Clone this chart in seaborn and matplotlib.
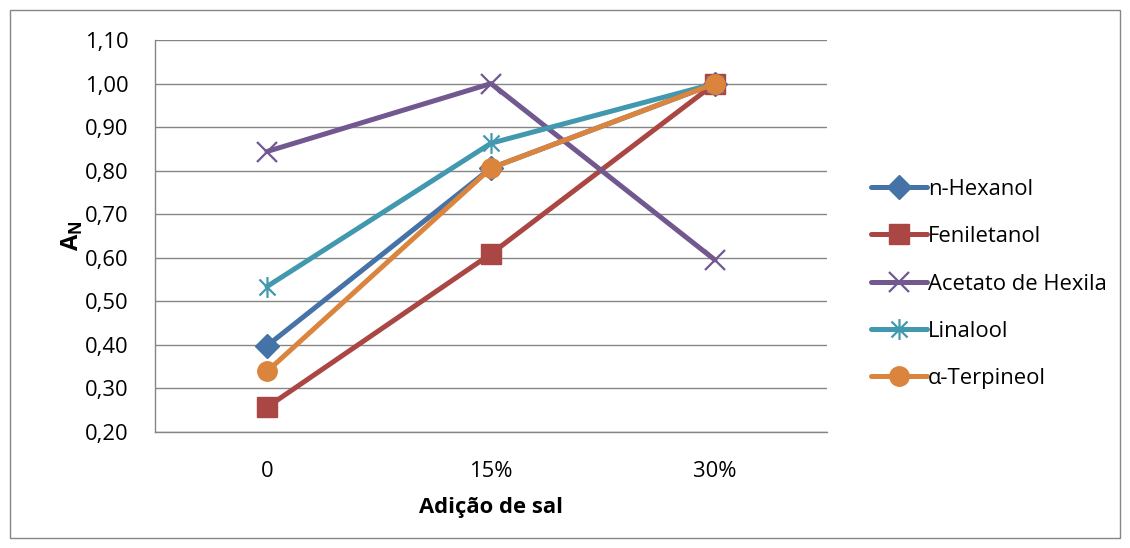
import matplotlib
matplotlib.use("Agg")
import matplotlib.pyplot as plt
import seaborn as sns
import pandas as pd
from matplotlib.path import Path
from matplotlib.lines import Line2D
from matplotlib.patches import Rectangle
from matplotlib.ticker import FixedLocator, FuncFormatter

sns.set_theme(style="white")
plt.rcParams["font.family"] = ["Open Sans", "DejaVu Sans"]
plt.rcParams["text.color"] = "black"
plt.rcParams["axes.labelcolor"] = "black"
plt.rcParams["mathtext.fontset"] = "custom"
plt.rcParams["mathtext.bf"] = "Open Sans:bold"
plt.rcParams["mathtext.rm"] = "Open Sans"

# salt additions and normalised areas per compound
categories = ["0", "15%", "30%"]
n_hexanol = [0.398, 0.806, 1.00]
feniletanol = [0.257, 0.609, 1.00]
acetato_hexila = [0.844, 1.00, 0.595]
linalool = [0.534, 0.863, 1.00]
terpineol = [0.339, 0.806, 1.00]
series_names = ["n-Hexanol", "Feniletanol", "Acetato de Hexila", "Linalool", "α-Terpineol"]
y_ticks = [0.20, 0.30, 0.40, 0.50, 0.60, 0.70, 0.80, 0.90, 1.00, 1.10]

colors = ["#4572A7", "#AA4643", "#71588F", "#4198AF", "#DB843D"]

# asterisk marker: x-cross plus a vertical stroke
star = Path(
    [(-1, -1), (1, 1), (-1, 1), (1, -1), (0, -1.3), (0, 1.3)],
    [Path.MOVETO, Path.LINETO, Path.MOVETO, Path.LINETO, Path.MOVETO, Path.LINETO],
)
markers = ["D", "s", "x", star, "o"]
msizes = [12, 14, 14, 15, 14]
medges = [1.0, 1.0, 1.6, 1.6, 1.0]

values = [n_hexanol, feniletanol, acetato_hexila, linalool, terpineol]

fig = plt.figure(figsize=(11.3, 5.48), dpi=100)
ax = fig.add_axes([155 / 1130, 1 - 432 / 548, (827 - 155) / 1130, (432 - 40) / 548])

handles = []
for name, vals, c, m, ms, mew in zip(series_names, values, colors, markers, msizes, medges):
    df = pd.DataFrame({"sal": categories, "an": vals})
    sns.lineplot(data=df, x="sal", y="an", ax=ax, color=c, linewidth=3.6,
                 marker=m, markersize=ms, markeredgecolor=c, markerfacecolor=c,
                 markeredgewidth=mew, sort=False, legend=False)
    handles.append(Line2D([], [], color=c, linewidth=3.6, marker=m, markersize=ms,
                          markeredgecolor=c, markerfacecolor=c, markeredgewidth=mew))

grid_c = "#868686"
ax.set_xlim(-0.5, 2.5)
ax.set_ylim(0.20, 1.10)
ax.yaxis.set_major_locator(FixedLocator(y_ticks))
ax.yaxis.set_major_formatter(FuncFormatter(lambda v, p: f"{v:.2f}".replace(".", ",")))
ax.grid(axis="y", color=grid_c, linewidth=1.0)
ax.set_axisbelow(True)
for s in ["top", "right"]:
    ax.spines[s].set_visible(False)
for s in ["left", "bottom"]:
    ax.spines[s].set_color(grid_c)
    ax.spines[s].set_linewidth(1.0)

fs = 15.8
ax.set_xticks([0, 1, 2])
ax.set_xticklabels(categories)
ax.set_xticks([-0.5, 0.5, 1.5, 2.5], minor=True)
ax.tick_params(axis="x", which="major", length=0, pad=21, labelsize=fs, labelcolor="black")
ax.tick_params(axis="x", which="minor", length=7, width=1, color=grid_c, direction="out")
ax.tick_params(axis="y", which="major", length=8, width=1, color=grid_c, direction="out",
               pad=11, labelsize=fs, labelcolor="black")

ax.set_xlabel("Adição de sal", fontsize=fs, fontweight="bold", labelpad=11, color="black")
ax.set_ylabel(r"$\mathbf{A}_{\mathbf{N}}$", fontsize=17, labelpad=0, color="black")

leg = fig.legend(handles, series_names, loc="center left",
                 bbox_to_anchor=(862 / 1130, 1 - 284 / 548), frameon=False,
                 fontsize=fs, handlelength=2.55, handletextpad=0.05,
                 labelspacing=1.2, borderaxespad=0)
for t in leg.get_texts():
    t.set_color("black")

fig.patches.append(Rectangle((10 / 1130, 10 / 548), 1110 / 1130, 528 / 548,
                             transform=fig.transFigure, fill=False,
                             edgecolor=grid_c, linewidth=1.0))

fig.savefig("out.png", dpi=100, facecolor="white")
